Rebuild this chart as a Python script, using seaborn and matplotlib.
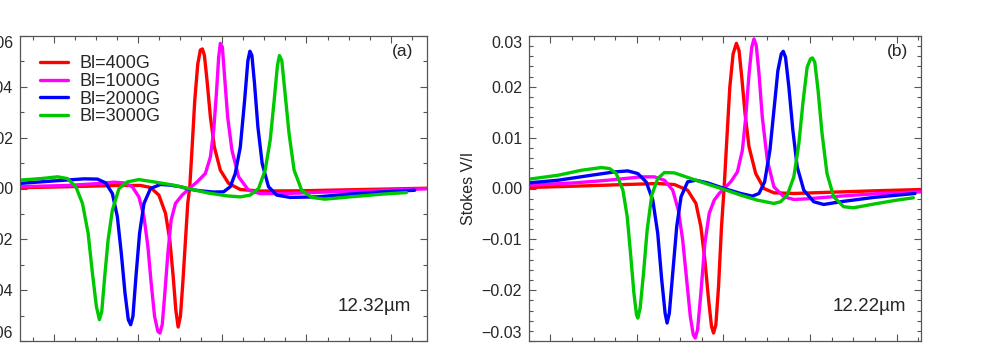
import numpy as np
import pandas as pd
import seaborn as sns
import matplotlib
matplotlib.use("Agg")
import matplotlib.pyplot as plt
from matplotlib.ticker import MultipleLocator, AutoMinorLocator, FuncFormatter

sns.set_style("ticks")
plt.rcParams['font.family'] = ['Liberation Sans', 'DejaVu Sans']

labels = ['Bl=400G', 'Bl=1000G', 'Bl=2000G', 'Bl=3000G']
colors = ['#ff0000', '#ff00ff', '#0000ff', '#00c800']

# ---- panel (a): 12.32 um line, x in units of the major tick spacing ----
a_x400 = [-2.012, -1.448, -0.856, -0.580, -0.462, -0.363, -0.284, -0.233, -0.193, -0.162, -0.134, -0.107,
          -0.079, -0.047, -0.020, 0.004, 0.032, 0.063, 0.099, 0.130, 0.154, 0.178, 0.209, 0.249, 0.296,
          0.367, 0.465, 0.604, 0.840, 1.314, 1.905, 2.821]
a_v400 = [0.0003, 0.0007, 0.0012, 0.0012, 0.0004, -0.0026, -0.0098, -0.0203, -0.0346, -0.0477, -0.0545, -0.0503,
          -0.0373, -0.0203, -0.0059, 0.0007, 0.0163, 0.0346, 0.0490, 0.0545, 0.0549, 0.0523, 0.0425, 0.0281, 0.0163,
          0.0072, 0.0020, -0.0004, -0.0010, -0.0009, -0.0005, 0.0001]

a_x1000 = [-2.012, -1.448, -1.053, -0.895, -0.777, -0.679, -0.600, -0.540, -0.493, -0.454, -0.414, -0.375,
           -0.351, -0.323, -0.292, -0.256, -0.217, -0.166, -0.087, 0.000, 0.091, 0.189, 0.249, 0.288, 0.320,
           0.347, 0.367, 0.391, 0.418, 0.454, 0.505, 0.584, 0.702, 0.840, 1.116, 1.708, 2.300, 2.821]
a_v1000 = [0.0007, 0.0012, 0.0020, 0.0025, 0.0022, 0.0007, -0.0033, -0.0111, -0.0229, -0.0373, -0.0503, -0.0562,
           -0.0569, -0.0536, -0.0412, -0.0255, -0.0124, -0.0059, -0.0026, 0.0000, 0.0026, 0.0059, 0.0124, 0.0229, 0.0373,
           0.0516, 0.0571, 0.0556, 0.0438, 0.0281, 0.0150, 0.0046, -0.0007, -0.0020, -0.0020, -0.0013, -0.0007, -0.0001]

a_x2000 = [-2.012, -1.645, -1.250, -1.093, -0.994, -0.915, -0.856, -0.809, -0.765, -0.726, -0.698, -0.671,
           -0.635, -0.592, -0.540, -0.462, -0.343, -0.225, -0.107, 0.000, 0.130, 0.288, 0.406, 0.485, 0.544,
           0.604, 0.655, 0.694, 0.718, 0.742, 0.773, 0.813, 0.864, 0.939, 1.037, 1.195, 1.511, 1.905, 2.300, 2.675]
a_v2000 = [0.0020, 0.0029, 0.0038, 0.0037, 0.0022, -0.0020, -0.0111, -0.0255, -0.0412, -0.0516, -0.0536, -0.0503,
           -0.0346, -0.0176, -0.0059, 0.0000, 0.0016, 0.0013, 0.0007, -0.0003, -0.0009, -0.0014, -0.0013, 0.0007, 0.0059,
           0.0163, 0.0346, 0.0503, 0.0540, 0.0523, 0.0412, 0.0242, 0.0098, 0.0007, -0.0026, -0.0035, -0.0033, -0.0022,
           -0.0013, -0.0007]

a_x3000 = [-2.012, -1.763, -1.566, -1.448, -1.349, -1.270, -1.203, -1.152, -1.105, -1.069, -1.041, -1.006,
           -0.966, -0.915, -0.836, -0.738, -0.600, -0.422, -0.185, 0.000, 0.209, 0.446, 0.604, 0.722, 0.821,
           0.899, 0.959, 1.006, 1.045, 1.069, 1.097, 1.136, 1.183, 1.243, 1.333, 1.452, 1.609, 1.905, 2.300, 2.576]
a_v3000 = [0.0033, 0.0039, 0.0046, 0.0039, 0.0007, -0.0059, -0.0176, -0.0333, -0.0464, -0.0516, -0.0484, -0.0346,
           -0.0203, -0.0085, 0.0000, 0.0026, 0.0035, 0.0026, 0.0013, -0.0001, -0.0017, -0.0029, -0.0033, -0.0026, 0.0000,
           0.0072, 0.0190, 0.0346, 0.0484, 0.0523, 0.0503, 0.0373, 0.0216, 0.0072, -0.0007, -0.0035, -0.0042, -0.0033,
           -0.0022, -0.0016]

# ---- panel (b): 12.22 um line ----
b_x400 = [-2.245, -1.716, -1.142, -0.759, -0.567, -0.414, -0.318, -0.261, -0.215, -0.172, -0.138, -0.115,
          -0.088, -0.057, -0.023, 0.008, 0.038, 0.073, 0.111, 0.149, 0.180, 0.211, 0.249, 0.295, 0.372,
          0.467, 0.582, 0.812, 1.157, 1.732, 2.280]
b_v400 = [0.00020, 0.00046, 0.00078, 0.00098, 0.00078, -0.00033, -0.00294, -0.00752, -0.01405, -0.02190, -0.02712,
          -0.02843, -0.02680, -0.01928, -0.00752, 0.00033, 0.00948, 0.01993, 0.02647, 0.02856, 0.02712, 0.02190,
          0.01471, 0.00817, 0.00294, 0.00000, -0.00085, -0.00098, -0.00078, -0.00046, -0.00020]

b_x1000 = [-2.245, -1.716, -1.333, -0.950, -0.797, -0.682, -0.586, -0.521, -0.471, -0.425, -0.383, -0.349,
           -0.326, -0.299, -0.261, -0.215, -0.165, -0.107, -0.050, 0.008, 0.084, 0.161, 0.218, 0.257, 0.295,
           0.326, 0.352, 0.379, 0.410, 0.448, 0.506, 0.582, 0.697, 0.812, 0.966, 1.349, 1.808, 2.280]
b_v1000 = [0.00065, 0.00111, 0.00163, 0.00229, 0.00229, 0.00163, -0.00033, -0.00425, -0.01013, -0.01797, -0.02516,
           -0.02876, -0.02941, -0.02778, -0.02059, -0.01078, -0.00490, -0.00229, -0.00098, 0.00000, 0.00131, 0.00327,
           0.00752, 0.01405, 0.02255, 0.02778, 0.02941, 0.02810, 0.02255, 0.01405, 0.00556, 0.00033, -0.00163,
           -0.00216, -0.00203, -0.00150, -0.00098, -0.00065]

b_x2000 = [-2.245, -1.908, -1.525, -1.257, -1.103, -0.989, -0.893, -0.816, -0.759, -0.713, -0.674, -0.651,
           -0.625, -0.586, -0.540, -0.490, -0.414, -0.318, -0.184, 0.008, 0.199, 0.333, 0.410, 0.475, 0.536,
           0.582, 0.628, 0.667, 0.690, 0.716, 0.755, 0.801, 0.851, 0.927, 1.042, 1.157, 1.349, 1.732, 2.211]
b_v2000 = [0.00111, 0.00163, 0.00261, 0.00327, 0.00346, 0.00294, 0.00131, -0.00229, -0.00882, -0.01797, -0.02451,
           -0.02647, -0.02451, -0.01667, -0.00752, -0.00163, 0.00131, 0.00163, 0.00111, 0.00000, -0.00098, -0.00150,
           -0.00098, 0.00131, 0.00752, 0.01536, 0.02320, 0.02647, 0.02699, 0.02582, 0.01993, 0.01144, 0.00425,
           -0.00033, -0.00261, -0.00314, -0.00261, -0.00176, -0.00098]

b_x3000 = [-2.245, -1.908, -1.640, -1.410, -1.314, -1.238, -1.161, -1.111, -1.073, -1.034, -1.004, -0.989,
           -0.962, -0.923, -0.881, -0.828, -0.759, -0.682, -0.567, -0.375, -0.184, 0.008, 0.199, 0.391, 0.582,
           0.659, 0.736, 0.812, 0.870, 0.920, 0.966, 1.004, 1.027, 1.054, 1.092, 1.138, 1.195, 1.272, 1.387,
           1.502, 1.732, 2.000, 2.192]
b_v3000 = [0.00183, 0.00261, 0.00359, 0.00412, 0.00392, 0.00294, -0.00033, -0.00556, -0.01275, -0.02059, -0.02484,
           -0.02549, -0.02353, -0.01667, -0.00817, -0.00131, 0.00196, 0.00314, 0.00307, 0.00196, 0.00085, -0.00020,
           -0.00131, -0.00229, -0.00294, -0.00261, -0.00131, 0.00229, 0.00882, 0.01732, 0.02386, 0.02549, 0.02569,
           0.02484, 0.01928, 0.01078, 0.00294, -0.00163, -0.00359, -0.00379, -0.00307, -0.00229, -0.00183]


def make_df(xs, vs):
    frames = []
    for lab, x, v in zip(labels, xs, vs):
        frames.append(pd.DataFrame({'x': x, 'v': v, 'field': lab}))
    return pd.concat(frames, ignore_index=True)


df_a = make_df([a_x400, a_x1000, a_x2000, a_x3000], [a_v400, a_v1000, a_v2000, a_v3000])
df_b = make_df([b_x400, b_x1000, b_x2000, b_x3000], [b_v400, b_v1000, b_v2000, b_v3000])


def fmt(v, pos):
    s = f"{v:.2f}"
    if s == "-0.00":
        s = "0.00"
    return s.replace("-", "\u2212")


fig = plt.figure(figsize=(9.81, 3.43), dpi=100)
ax1 = fig.add_axes([20 / 981, 2 / 343, 407 / 981, 305 / 343])
ax2 = fig.add_axes([529 / 981, 2 / 343, 392 / 981, 305 / 343])

pal = dict(zip(labels, colors))
for ax, df in [(ax1, df_a), (ax2, df_b)]:
    sns.lineplot(data=df, x='x', y='v', hue='field', palette=pal, hue_order=labels,
                 estimator=None, sort=False, linewidth=2.4, ax=ax, legend=False)
    ax.set_xlabel('')
    ax.set_ylabel('')
    for s in ax.spines.values():
        s.set_color('#555555')
        s.set_linewidth(0.9)
    ax.tick_params(which='both', direction='in', top=True, right=True, labelbottom=False,
                   color='#555555', labelsize=11.5, pad=5)
    ax.tick_params(which='major', length=5, width=0.8)
    ax.tick_params(which='minor', length=3, width=0.8)
    ax.yaxis.set_major_formatter(FuncFormatter(fmt))

ax1.set_xlim(-2.012, 2.821)
ax1.set_ylim(-0.06, 0.06)
ax1.xaxis.set_major_locator(MultipleLocator(1.0, offset=0.39))
ax1.xaxis.set_minor_locator(MultipleLocator(0.25, offset=0.39))
ax1.yaxis.set_major_locator(MultipleLocator(0.02))
ax1.yaxis.set_minor_locator(AutoMinorLocator(2))

ax2.set_xlim(-2.245, 2.280)
ax2.set_ylim(-0.03, 0.03)
ax2.xaxis.set_major_locator(MultipleLocator(1.0))
ax2.xaxis.set_minor_locator(AutoMinorLocator(4))
ax2.yaxis.set_major_locator(MultipleLocator(0.01))
ax2.yaxis.set_minor_locator(AutoMinorLocator(5))
ax2.set_ylabel('Stokes V/I', fontsize=11.5, labelpad=4)

handles = ax1.get_lines()[:4]
ax1.legend(handles, labels, loc='upper left', bbox_to_anchor=(0.048, 0.937), frameon=False,
           fontsize=13, handlelength=1.6, handletextpad=0.6, labelspacing=0.04,
           borderpad=0, borderaxespad=0)

ax1.text(0.966, 0.948, '(a)', transform=ax1.transAxes, ha='right', va='center', fontsize=12.5)
ax2.text(0.967, 0.948, '(b)', transform=ax2.transAxes, ha='right', va='center', fontsize=12.5)
ax1.text(0.961, 0.098, '12.32\u00b5m', transform=ax1.transAxes, ha='right', va='baseline', fontsize=13.5)
ax2.text(0.961, 0.098, '12.22\u00b5m', transform=ax2.transAxes, ha='right', va='baseline', fontsize=13.5)

fig.canvas.draw()
for ax in (ax1, ax2):
    tl = ax.yaxis.get_majorticklabels()
    ys = [t.get_position()[1] for t in tl]
    lo, hi = ax.get_ylim()
    for t, y in zip(tl, ys):
        if abs(y - hi) < 1e-9:
            t.set_va('top')
        elif abs(y - lo) < 1e-9:
            t.set_va('bottom')

fig.savefig('out.png', dpi=100)
